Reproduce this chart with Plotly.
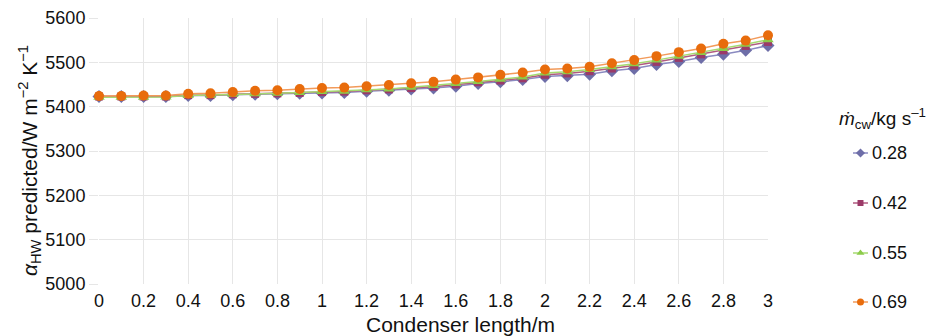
import plotly.graph_objects as go

# Condenser length (m)
length_m = [0.0, 0.1, 0.2, 0.3, 0.4, 0.5, 0.6, 0.7, 0.8, 0.9, 1.0,
            1.1, 1.2, 1.3, 1.4, 1.5, 1.6, 1.7, 1.8, 1.9, 2.0,
            2.1, 2.2, 2.3, 2.4, 2.5, 2.6, 2.7, 2.8, 2.9, 3.0]

# Predicted alpha_HW (W m^-2 K^-1) for each cooling water flow rate
alpha_028 = [5423, 5423, 5423, 5423, 5425, 5425, 5427, 5428, 5429, 5430, 5431,
             5432, 5435, 5437, 5440, 5442, 5446, 5452, 5456, 5461, 5468,
             5470, 5473, 5481, 5486, 5495, 5502, 5511, 5518, 5527, 5538]
alpha_042 = [5423, 5423, 5423, 5423, 5426, 5426, 5428, 5429, 5430, 5431, 5433,
             5434, 5437, 5439, 5442, 5445, 5450, 5455, 5459, 5464, 5472,
             5475, 5480, 5486, 5493, 5501, 5510, 5518, 5527, 5537, 5546]
alpha_055 = [5421, 5421, 5421, 5422, 5425, 5426, 5428, 5429, 5430, 5432, 5434,
             5435, 5438, 5440, 5444, 5448, 5452, 5457, 5462, 5467, 5476,
             5479, 5484, 5490, 5497, 5505, 5514, 5522, 5531, 5541, 5551]
alpha_069 = [5424, 5424, 5425, 5425, 5429, 5430, 5433, 5436, 5437, 5440, 5442,
             5443, 5446, 5449, 5453, 5456, 5461, 5466, 5472, 5477, 5484,
             5486, 5490, 5498, 5505, 5514, 5523, 5531, 5542, 5549, 5561]

series_names = ["0.28", "0.42", "0.55", "0.69"]
series_values = [alpha_028, alpha_042, alpha_055, alpha_069]
colors = ["#6E6EA8", "#9B3A68", "#8CCB4A", "#E86C0C"]
line_colors = ["#8A8AC0", "#B05A80", "#A6DA70", "#F29A5A"]
symbols = ["diamond", "square", "triangle-up", "circle"]

x_ticks = [0, 0.2, 0.4, 0.6, 0.8, 1, 1.2, 1.4, 1.6, 1.8, 2, 2.2, 2.4, 2.6, 2.8, 3]
y_ticks = [5000, 5100, 5200, 5300, 5400, 5500, 5600]

FONT = "Liberation Sans, Arial, Helvetica, sans-serif"
GRID = "#E6E6E6"
TXT = "#111111"

# --- layout geometry, in page pixels (page has an 8px body margin) ---
OFF = 8
WIN_W, WIN_H = 946, 336
FW, FH = WIN_W - OFF, WIN_H - OFF          # figure size
P_L, P_T, P_R, P_B = 99, 18, 940, 322       # paper box in page pixels
PLOT_RIGHT, PLOT_BOTTOM = 768, 284          # main plot area edges (page px)
ML, MT = P_L - OFF, P_T - OFF
MR, MB = FW - (P_R - OFF), FH - (P_B - OFF)
PW, PH = P_R - P_L, P_B - P_T
main_xdom = [0, (PLOT_RIGHT - P_L) / PW]
main_ydom = [(P_B - PLOT_BOTTOM) / PH, 1]
LEG_L = 830
leg_xdom = [(LEG_L - P_L) / PW, 1.0]

fig = go.Figure()
for name, vals, c, lc, s in zip(series_names, series_values, colors, line_colors, symbols):
    fig.add_trace(go.Scatter(
        x=length_m, y=vals, name=name, mode="lines+markers",
        line=dict(color=lc, width=1.5),
        marker=dict(color=c, symbol=s, size=10 if s != "square" else 8),
        cliponaxis=False, showlegend=False,
    ))

# --- custom legend drawn in a helper axis mapped to page pixels ---
leg_y = [153, 203, 253, 302]
for name, c, lc, s, yy in zip(series_names, colors, line_colors, symbols, leg_y):
    fig.add_trace(go.Scatter(
        x=[853, 868], y=[yy, yy], mode="lines", line=dict(color=lc, width=1.5),
        xaxis="x2", yaxis="y2", showlegend=False, hoverinfo="skip", cliponaxis=False,
    ))
    fig.add_trace(go.Scatter(
        x=[860.5], y=[yy], mode="markers",
        marker=dict(color=c, symbol=s, size=7 if s != "square" else 6),
        xaxis="x2", yaxis="y2", showlegend=False, hoverinfo="skip", cliponaxis=False,
    ))
    fig.add_annotation(x=870, y=yy, xref="x2", yref="y2", text=name,
                       showarrow=False, xanchor="left", yanchor="middle",
                       font=dict(size=18, family=FONT, color=TXT))
fig.add_annotation(x=882, y=118, xref="x2", yref="y2",
                   text="<i>ṁ</i><sub>cw</sub>/kg s<sup>–1</sup>",
                   showarrow=False, xanchor="center", yanchor="middle",
                   font=dict(size=19, family=FONT, color=TXT))

# x-axis title (sits right of the plot centre in the reference)
fig.add_annotation(x=(460 - P_L) / PW, y=(P_B - 324) / PH, xref="paper", yref="paper",
                   text="Condenser length/m", showarrow=False,
                   xanchor="center", yanchor="middle",
                   font=dict(size=21, family=FONT, color=TXT))

# y-axis title
fig.add_annotation(x=(29 - P_L) / PW, y=(P_B - 161) / PH, xref="paper", yref="paper",
                   text="<i>α</i><sub>HW</sub> predicted/W m<sup>−2</sup> K<sup>−1</sup>",
                   showarrow=False, textangle=-90,
                   xanchor="center", yanchor="middle",
                   font=dict(size=21, family=FONT, color=TXT))

fig.update_layout(
    width=FW, height=FH,
    margin=dict(l=ML, r=MR, t=MT, b=MB, autoexpand=False),
    paper_bgcolor="white", plot_bgcolor="white",
    font=dict(family=FONT, size=18, color=TXT),
    showlegend=False,
    xaxis=dict(
        domain=main_xdom, automargin=False, anchor="y",
        range=[0, 3], tickvals=x_ticks, ticktext=[f"{v:g}" for v in x_ticks],
        showgrid=True, gridcolor=GRID, gridwidth=1,
        zeroline=False, showline=False, ticks="",
        ticklabelstandoff=4,
        tickfont=dict(size=18),
    ),
    yaxis=dict(
        domain=main_ydom, anchor="x",
        range=[5000, 5600], tickvals=y_ticks, automargin=False,
        showgrid=True, gridcolor=GRID, gridwidth=1,
        zeroline=False, showline=False,
        ticks="outside", ticklen=9, tickcolor=GRID, tickwidth=1,
        tickfont=dict(size=18),
    ),
    xaxis2=dict(domain=leg_xdom, range=[LEG_L, P_R], visible=False,
                anchor="y2", fixedrange=True),
    yaxis2=dict(domain=[0, 1], range=[P_B, P_T], visible=False,
                anchor="x2", fixedrange=True),
)

fig.write_html("out.html")
